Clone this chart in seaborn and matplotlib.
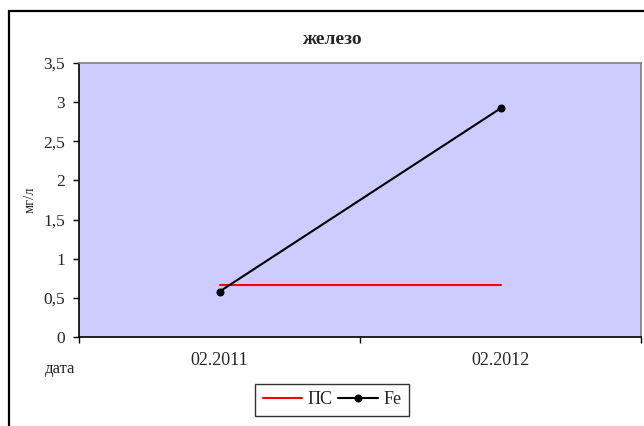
import matplotlib
matplotlib.use("Agg")
import matplotlib.pyplot as plt
from matplotlib.patches import Rectangle
from matplotlib.ticker import FixedLocator, FixedFormatter
import seaborn as sns
import pandas as pd

# Data
dates = ["02.2011", "02.2012"]
fe_values = [0.58, 2.92]
ps_values = [0.67, 0.67]
y_ticks = [0, 0.5, 1, 1.5, 2, 2.5, 3, 3.5]
y_tick_labels = ["0", "0,5", "1", "1,5", "2", "2,5", "3", "3,5"]

sns.set_style("white")
plt.rcParams["font.family"] = ["Liberation Serif", "DejaVu Serif"]

df = pd.DataFrame({"x": range(len(dates)), "ПС": ps_values, "Fe": fe_values})

fig = plt.figure(figsize=(6.44, 4.26), dpi=100)
fig.patch.set_facecolor("white")

# outer chart frame
fig.patches.append(Rectangle((9 / 644, -0.05), 1.0, 1 - 11 / 426 + 0.05,
                             transform=fig.transFigure, fill=False,
                             edgecolor="black", linewidth=1.6, zorder=0))

ax = fig.add_axes([79 / 644, 1 - 337 / 426, (641 - 79) / 644, (337 - 63) / 426])
ax.set_facecolor("#CCCCFF")

sns.lineplot(data=df, x="x", y="ПС", ax=ax, color="#FF0000", linewidth=1.5,
             label="ПС", legend=False)
sns.lineplot(data=df, x="x", y="Fe", ax=ax, color="black", linewidth=1.5,
             marker="o", markersize=5, markeredgecolor="black",
             label="Fe", legend=False)

ax.set_xlim(-0.5, len(dates) - 0.5)
ax.set_ylim(0, 3.5)

ax.yaxis.set_major_locator(FixedLocator(y_ticks))
ax.yaxis.set_major_formatter(FixedFormatter(y_tick_labels))
ax.xaxis.set_major_locator(FixedLocator([-0.5, 0.5, 1.5]))
ax.xaxis.set_major_formatter(FixedFormatter(["", "", ""]))
ax.xaxis.set_minor_locator(FixedLocator([0, 1]))
ax.xaxis.set_minor_formatter(FixedFormatter(dates))

ax.tick_params(axis="y", which="major", direction="out", length=4, width=1,
               color="black", labelsize=12.5, pad=6, left=True)
ax.tick_params(axis="x", which="major", direction="out", length=4, width=1,
               color="black", bottom=True)
ax.tick_params(axis="x", which="minor", length=0, labelsize=13, pad=11)

for side in ("left", "bottom"):
    ax.spines[side].set_color("black")
    ax.spines[side].set_linewidth(1.2)
for side in ("top", "right"):
    ax.spines[side].set_color("#808080")
    ax.spines[side].set_linewidth(1.2)

ax.set_xlabel("")
ax.set_ylabel("мг/л", fontsize=10.5, labelpad=5)

fig.text(333 / 644, 1 - 39 / 426, "железо", ha="center", va="center",
         fontsize=14, fontweight="bold")
fig.text(45 / 644, 1 - 369 / 426, "дата", ha="left", va="center", fontsize=12)

handles, labels = ax.get_legend_handles_labels()
leg = fig.legend(handles, labels, loc="center", ncol=2,
                 bbox_to_anchor=(332 / 644, 1 - 400 / 426), frameon=True,
                 fancybox=False, edgecolor="black", fontsize=13,
                 handlelength=2.2, handletextpad=0.3, columnspacing=0.3,
                 borderpad=0.4)
leg.get_frame().set_linewidth(1.0)

fig.savefig("out.png", dpi=100)
